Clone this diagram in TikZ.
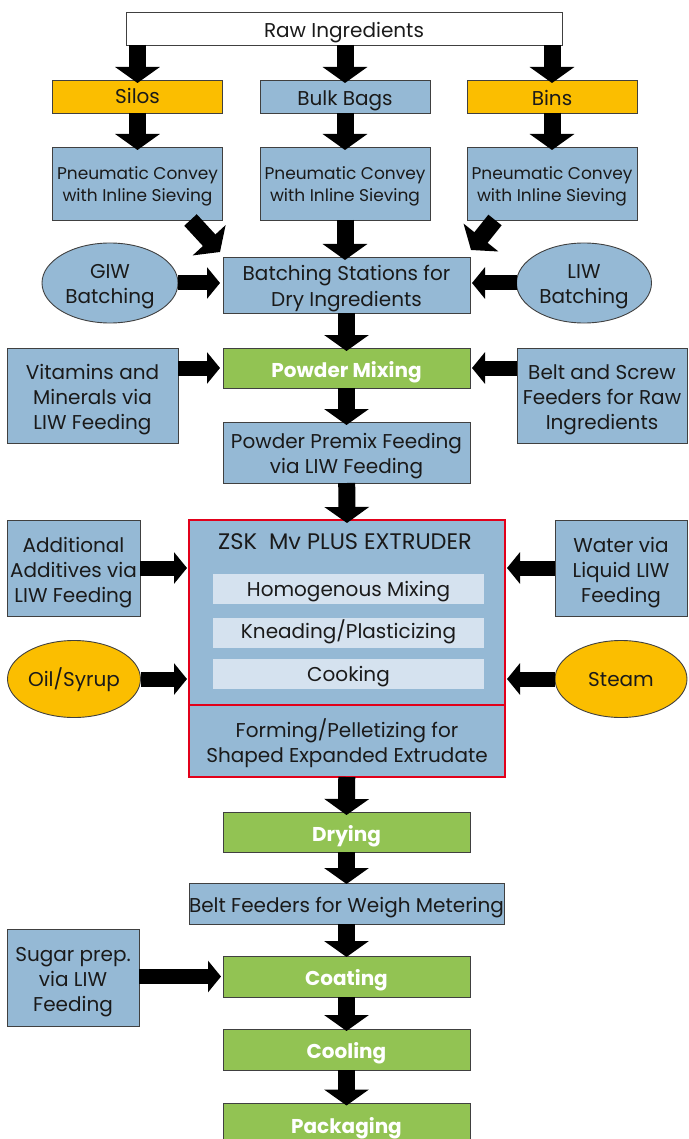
\documentclass[tikz,border=0pt]{standalone}
\usepackage{fontspec}
\setmainfont{Poppins}
\usetikzlibrary{arrows.meta,shapes.geometric,calc}
\definecolor{boxblue}{HTML}{95B9D5}
\definecolor{boxorange}{HTML}{FBBE00}
\definecolor{boxgreen}{HTML}{92C353}
\definecolor{boxred}{HTML}{E2001A}
\definecolor{boxlight}{HTML}{D5E2EF}
\definecolor{ink}{HTML}{1A1A1A}
\newcommand{\mytext}{\fontsize{20}{25}\selectfont}
\newcommand{\smalltext}{\fontsize{17}{22}\selectfont}
\newcommand{\wtext}[1]{\textcolor{white}{\textbf{#1}}}
\def\midw{247}
\def\sidew{170}

\tikzset{
  base/.style={draw=black!75, line width=0.9pt, inner sep=0pt, outer sep=0pt, align=center,
    font=\mytext, text=ink, text height=18pt, text depth=0pt},
  twolines/.style={text height=42pt},
  threelines/.style={text height=68pt},
  lowtext/.style={text height=14pt},
  bluebox/.style={base, fill=boxblue},
  orangebox/.style={base, fill=boxorange},
  greenbox/.style={base, fill=boxgreen, minimum width=\midw, minimum height=40},
  blueoval/.style={base, ellipse, fill=boxblue},
  orangeoval/.style={base, ellipse, fill=boxorange, lowtext},
  redbox/.style={base, draw=boxred, line width=1.8pt, fill=boxblue},
  stagebox/.style={base, draw=none, fill=boxlight, minimum width=271, minimum height=30, lowtext},
  downarr/.style={line width=17pt, -{Triangle[length=16pt,width=44pt]}},
  sidearr/.style={line width=15pt, -{Triangle[length=13pt,width=31pt]}},
}

\begin{document}
\begin{tikzpicture}[x=1pt,y=-1pt]

\useasboundingbox (0,0) rectangle (688,1139);

% SOURCES
\node[base, minimum width=436, minimum height=33] (raw) at (344,28.5) {Raw Ingredients};
\node[orangebox, minimum width=\sidew, minimum height=33, lowtext] (silos) at (137.5,96.5) {Silos};
\node[bluebox, minimum width=\sidew, minimum height=33] (bulk) at (345,96.5) {Bulk Bags};
\node[orangebox, minimum width=\sidew, minimum height=33] (bins) at (552,96.5) {Bins};

% CONVEYING
\node[bluebox, minimum width=\sidew, minimum height=73, font=\smalltext, text height=37pt] (convl) at (137.5,183.5) {Pneumatic Convey\\with Inline Sieving};
\node[bluebox, minimum width=\sidew, minimum height=73, font=\smalltext, text height=37pt] (convm) at (345,183.5) {Pneumatic Convey\\with Inline Sieving};
\node[bluebox, minimum width=\sidew, minimum height=73, font=\smalltext, text height=37pt] (convr) at (552,183.5) {Pneumatic Convey\\with Inline Sieving};

\draw[downarr] (raw.south -| silos.north) -- ([yshift=-3]silos.north);
\draw[downarr] (raw.south -| bulk.north) -- ([yshift=-3]bulk.north);
\draw[downarr] (raw.south -| bins.north) -- ([yshift=-3]bins.north);
\draw[downarr] (silos) -- ([yshift=-3]convl.north);
\draw[downarr] (bulk) -- ([yshift=-3]convm.north);
\draw[downarr] (bins) -- ([yshift=-3]convr.north);

% BATCHING
\node[bluebox, twolines, minimum width=\midw, minimum height=56] (batch) at (346.5,285) {Batching Stations for\\Dry Ingredients};
\node[blueoval, twolines, minimum width=136, minimum height=80] (giw) at (110,283) {GIW\\Batching};
\node[blueoval, twolines, minimum width=135, minimum height=80] (liw) at (584,283) {LIW\\Batching};

\draw[downarr] ($(convl.south east)+(-32,0)$) -- ($(batch.north west)+(-3,-5)$);
\draw[downarr] (convm) -- ([yshift=-3]batch.north -| convm);
\draw[downarr] ($(convr.south west)+(28,0)$) -- ($(batch.north east)+(1,-7)$);
\draw[sidearr] (giw) -- ([xshift=-3]batch.west |- giw);
\draw[sidearr] (liw) -- ([xshift=2]batch.east |- liw);

% MIXING
\node[greenbox] (mix) at (346.5,368) {\wtext{Powder Mixing}};
\node[bluebox, threelines, minimum width=171, minimum height=95] (vit) at (92.5,395.5) {Vitamins and\\Minerals via\\LIW Feeding};
\node[bluebox, threelines, minimum width=\sidew, minimum height=95] (belt) at (602,395.5) {Belt and Screw\\Feeders for Raw\\Ingredients};
\node[bluebox, twolines, minimum width=\midw, minimum height=61] (premix) at (346.5,452.5) {Powder Premix Feeding\\via LIW Feeding};

\draw[downarr] (batch) -- ([yshift=-3]mix.north);
\draw[sidearr] (vit.east |- mix) -- ([xshift=-3]mix.west);
\draw[sidearr] (belt.west |- mix) -- ([xshift=2]mix.east);
\draw[downarr] (mix) -- ([yshift=-3]premix.north);

% EXTRUDER
\node[redbox, minimum width=316, minimum height=185] (extr) at (347,612.5) {};
\node[redbox, twolines, minimum width=316, minimum height=72] (form) at (347,741) {Forming/Pelletizing for\\Shaped Expanded Extrudate};
\node[base, draw=none, lowtext, font=\fontsize{22.5}{26}\selectfont] (title) at (345,542) {ZSK\ \ Mv PLUS EXTRUDER};
\node[stagebox] (stage1) at (348.5,589) {Homogenous Mixing};
\node[stagebox, text height=12pt] (stage2) at (348.5,632.5) {Kneading/Plasticizing};
\node[stagebox] (stage3) at (348.5,674) {Cooking};

\node[bluebox, threelines, minimum width=133, minimum height=96] (add) at (73.5,568) {Additional\\Additives via\\LIW Feeding};
\node[bluebox, threelines, minimum width=132, minimum height=96] (water) at (621,568) {Water via\\Liquid LIW\\Feeding};
\node[orangeoval, minimum width=133, minimum height=77] (oil) at (74,679) {Oil/Syrup};
\node[orangeoval, minimum width=132, minimum height=77] (steam) at (621,679) {Steam};

\draw[downarr] (premix) -- ([yshift=-3]extr.north);
\draw[sidearr] (add.east |- add) -- ([xshift=-2]extr.west |- add);
\draw[sidearr] (water.west |- water) -- ([xshift=2]extr.east |- water);
\draw[sidearr] (oil) -- ([xshift=-2]extr.west |- oil);
\draw[sidearr] (steam) -- ([xshift=2]extr.east |- steam);

% AFTER EXTRUSION
\node[greenbox] (dry) at (346.5,832) {\wtext{Drying}};
\node[bluebox, minimum width=315, minimum height=41] (weigh) at (346.5,903.5) {Belt Feeders for Weigh Metering};
\node[greenbox, minimum height=41] (coat) at (346.5,976.5) {\wtext{Coating}};
\node[bluebox, threelines, minimum width=132, minimum height=97] (sugar) at (73,977.5) {Sugar prep.\\via LIW\\Feeding};
\node[greenbox, minimum height=41] (cool) at (346.5,1049.5) {\wtext{Cooling}};
\node[greenbox, minimum height=41] (pack) at (346.5,1124) {\wtext{Packaging}};

\draw[downarr] (form) -- ([yshift=-3]dry.north);
\draw[downarr] (dry) -- ([yshift=-1]weigh.north);
\draw[downarr] (weigh) -- ([yshift=-1]coat.north);
\draw[sidearr] (sugar.east |- coat) -- ([xshift=-2]coat.west);
\draw[downarr] (coat) -- ([yshift=-2]cool.north);
\draw[downarr] (cool) -- ([yshift=-2]pack.north);

\end{tikzpicture}
\end{document}
